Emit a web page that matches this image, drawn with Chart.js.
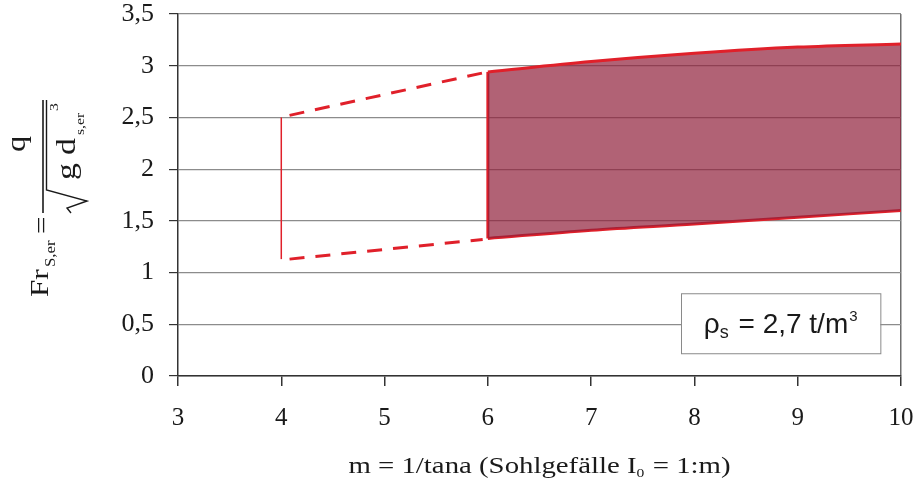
<!DOCTYPE html>
<html>
<head>
<meta charset="utf-8">
<script src="https://cdn.jsdelivr.net/npm/chart.js@4.4.1/dist/chart.umd.min.js"></script>
<style>
  html, body { margin: 0; padding: 0; background: #fff; }
  #wrap { width: 921px; height: 482px; position: relative; }
</style>
</head>
<body>
<div id="wrap"><canvas id="chart" width="921" height="482"></canvas></div>
<script>
// solid band (6 <= m <= 10)
const mBand = [6, 7, 8, 9, 10];
const upperBand = [2.94, 3.04, 3.12, 3.18, 3.21];
const lowerBand = [1.33, 1.41, 1.47, 1.535, 1.60];

// dashed extrapolation (4 < m < 6)
const mDashed = [4.08, 5.95];
const upperDashed = [2.52, 2.93];
const lowerDashed = [1.13, 1.32];

// thin marker at m = 4
const mMarker = [4, 4];
const yMarker = [1.13, 2.50];

const xTicks = [3, 4, 5, 6, 7, 8, 9, 10];
const yTicks = [0, 0.5, 1, 1.5, 2, 2.5, 3, 3.5];

const RED = '#e0202a';
const FILL = 'rgba(144, 31, 58, 0.7)';
const TEXT = '#1a1a1a';
const SERIF = '"Liberation Serif", "Times New Roman", serif';
const SANS = '"Liberation Sans", Arial, sans-serif';

const pts = (xs, ys) => xs.map((x, i) => ({ x: x, y: ys[i] }));

const edgeX = [mBand[0], mBand[0]];
const edgeY = [lowerBand[0], upperBand[0]];

// draws text pieces with sub/superscripts, returns new x
const runText = (ctx, pieces, x, y) => {
    pieces.forEach(p => {
        ctx.font = p.font;
        ctx.fillText(p.t, x, y + (p.dy || 0));
        x += ctx.measureText(p.t).width + (p.gap || 0);
    });
    return x;
};

// titles in the reference are set a little wide
const STRETCH = 1.2;
const putText = (ctx, t, u, v, size) => {
    ctx.save();
    ctx.translate(u, v);
    ctx.scale(STRETCH, 1);
    ctx.font = size + 'px ' + SERIF;
    ctx.fillText(t, 0, 0);
    ctx.restore();
};

const titlesPlugin = {
    id: 'titles',
    afterDraw(chart) {
        const ctx = chart.ctx;
        const area = chart.chartArea;
        const xs = chart.scales.x, ys = chart.scales.y;
        ctx.save();
        ctx.fillStyle = TEXT;
        ctx.strokeStyle = TEXT;
        ctx.textBaseline = 'alphabetic';
        ctx.textAlign = 'left';

        // x axis title
        const xPieces = [
            { t: 'm = 1/tana (Sohlgefälle I', font: '24px ' + SERIF },
            { t: '0', font: '13px ' + SERIF, dy: 4, gap: 1 },
            { t: ' = 1:m)', font: '24px ' + SERIF }
        ];
        let w = 0;
        xPieces.forEach(p => { ctx.font = p.font; w += ctx.measureText(p.t).width + (p.gap || 0); });
        ctx.save();
        ctx.translate((area.left + area.right) / 2 - w * STRETCH / 2, 473);
        ctx.scale(STRETCH, 1);
        runText(ctx, xPieces, 0, 0);
        ctx.restore();

        // y axis title: Fr_S,er = q / sqrt(g d_s,er^3)
        ctx.translate(43, 297);
        ctx.rotate(-Math.PI / 2);
        putText(ctx, 'Fr', 0, 5, 26);
        putText(ctx, 'S,er', 30, 12, 14);
        putText(ctx, '=', 63, 7, 26);
        ctx.lineWidth = 1.6;
        ctx.beginPath();
        ctx.moveTo(84, 0); ctx.lineTo(197, 0);
        ctx.stroke();
        putText(ctx, 'q', 145, -18, 27);
        ctx.lineWidth = 1.4;
        ctx.beginPath();
        ctx.moveTo(84, 28);
        ctx.lineTo(89, 24);
        ctx.lineTo(96, 44);
        ctx.lineTo(107, 3.5);
        ctx.lineTo(197, 3.5);
        ctx.stroke();
        putText(ctx, 'g', 117, 32, 28);
        putText(ctx, 'd', 142, 32, 28);
        putText(ctx, 's,er', 162, 41, 13);
        putText(ctx, '3', 186, 15, 13);
        ctx.restore();

        // density box
        const bx0 = xs.getPixelForValue(7.87), bx1 = xs.getPixelForValue(9.8);
        const by0 = ys.getPixelForValue(0.80), by1 = ys.getPixelForValue(0.22);
        ctx.save();
        ctx.fillStyle = '#fff';
        ctx.fillRect(bx0, by0, bx1 - bx0, by1 - by0);
        ctx.strokeStyle = '#8a8a8a';
        ctx.lineWidth = 1;
        ctx.strokeRect(bx0 + 0.5, by0 + 0.5, bx1 - bx0, by1 - by0);
        ctx.fillStyle = TEXT;
        ctx.textBaseline = 'alphabetic';
        const bPieces = [
            { t: 'ρ', font: '28px ' + SANS },
            { t: 's', font: '18px ' + SANS, dy: 5, gap: 2 },
            { t: ' = 2,7 t/m', font: '28px ' + SANS, gap: 1 },
            { t: '3', font: '15px ' + SANS, dy: -12 }
        ];
        let bw = 0;
        bPieces.forEach(p => { ctx.font = p.font; bw += ctx.measureText(p.t).width + (p.gap || 0); });
        runText(ctx, bPieces, (bx0 + bx1) / 2 - bw / 2, (by0 + by1) / 2 + 10);
        ctx.restore();
    }
};

const ctx = document.getElementById('chart').getContext('2d');
new Chart(ctx, {
    type: 'line',
    data: {
        datasets: [
            {
                data: pts(mBand, upperBand),
                borderColor: RED, borderWidth: 3, pointRadius: 0,
                tension: 0.4, cubicInterpolationMode: 'monotone',
                fill: '+1', backgroundColor: FILL
            },
            {
                data: pts(mBand, lowerBand),
                borderColor: RED, borderWidth: 3, pointRadius: 0,
                tension: 0.4, cubicInterpolationMode: 'monotone', fill: false
            },
            {
                data: pts(edgeX, edgeY),
                borderColor: RED, borderWidth: 3, pointRadius: 0, fill: false
            },
            {
                data: pts(mDashed, upperDashed),
                borderColor: RED, borderWidth: 3, borderDash: [15, 11], pointRadius: 0, fill: false
            },
            {
                data: pts(mDashed, lowerDashed),
                borderColor: RED, borderWidth: 3, borderDash: [15, 11], pointRadius: 0, fill: false
            },
            {
                data: pts(mMarker, yMarker),
                borderColor: RED, borderWidth: 1.5, pointRadius: 0, fill: false
            }
        ]
    },
    options: {
        responsive: false,
        animation: false,
        layout: { padding: { top: 14, right: 20, left: 0, bottom: 0 } },
        plugins: { legend: { display: false }, tooltip: { enabled: false } },
        scales: {
            x: {
                type: 'linear', min: 3, max: 10,
                afterBuildTicks: s => { s.ticks = xTicks.map(v => ({ value: v })); },
                afterFit: s => { s.height = 106; s.paddingLeft = 0; s.paddingRight = 0; },
                grid: {
                    color: c => (c.tick && c.tick.value === 10) ? '#6e6e6e' : 'rgba(0,0,0,0)',
                    lineWidth: 1.5,
                    drawTicks: true, tickLength: 10, tickColor: '#333', tickWidth: 1.5
                },
                border: { color: '#333', width: 1.5 },
                ticks: {
                    color: TEXT, padding: 17,
                    font: { family: SERIF, size: 25 }
                }
            },
            y: {
                min: 0, max: 3.5,
                afterBuildTicks: s => { s.ticks = yTicks.map(v => ({ value: v })); },
                afterFit: s => { s.width = 178; s.paddingTop = 0; s.paddingBottom = 0; },
                grid: {
                    color: '#8c8c8c', lineWidth: 1.2,
                    tickLength: 9, tickColor: '#333', tickWidth: 1.2
                },
                border: { color: '#333', width: 1.5 },
                ticks: {
                    color: TEXT, padding: 15,
                    font: { family: SERIF, size: 26 },
                    callback: v => String(v).replace('.', ',')
                }
            }
        }
    },
    plugins: [titlesPlugin]
});
</script>
</body>
</html>
